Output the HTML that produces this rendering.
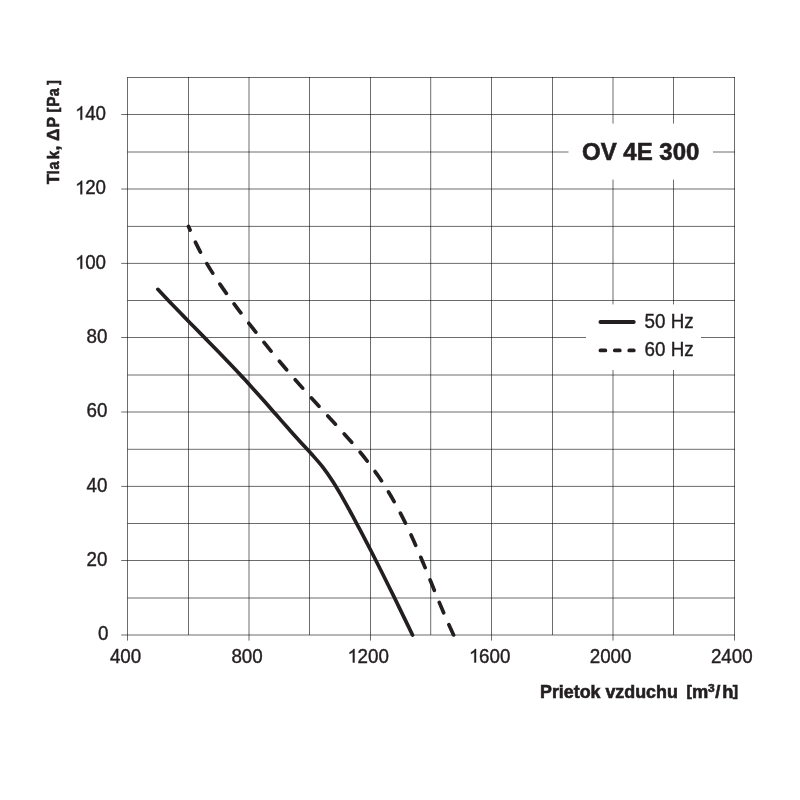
<!DOCTYPE html>
<html><head><meta charset="utf-8"><title>OV 4E 300</title>
<style>
html,body{margin:0;padding:0;background:#fff;}
body{width:800px;height:800px;overflow:hidden;}
svg{display:block;will-change:transform;}
text{font-family:"Liberation Sans",sans-serif;fill:#231f20;stroke:#231f20;stroke-width:0.38px;}
.b{font-weight:bold;stroke-width:0.6px;}
</style></head><body>
<svg width="800" height="800" viewBox="0 0 800 800">
<rect width="800" height="800" fill="#fff"/>
<g stroke="#000" stroke-opacity="0.576" stroke-width="1" fill="none">
<line x1="127.50" y1="77.00" x2="127.50" y2="640.60"/>
<line x1="188.50" y1="77.00" x2="188.50" y2="635.00"/>
<line x1="249.00" y1="77.00" x2="249.00" y2="640.60"/>
<line x1="309.50" y1="77.00" x2="309.50" y2="635.00"/>
<line x1="370.50" y1="77.00" x2="370.50" y2="640.60"/>
<line x1="430.70" y1="77.00" x2="430.70" y2="635.00"/>
<line x1="491.50" y1="77.00" x2="491.50" y2="640.60"/>
<line x1="552.50" y1="77.00" x2="552.50" y2="635.00"/>
<line x1="613.00" y1="77.00" x2="613.00" y2="640.60"/>
<line x1="673.50" y1="77.00" x2="673.50" y2="635.00"/>
<line x1="734.50" y1="77.00" x2="734.50" y2="640.60"/>
<line x1="127.50" y1="77.50" x2="735.00" y2="77.50"/>
<line x1="121.20" y1="114.50" x2="735.00" y2="114.50"/>
<line x1="127.50" y1="152.00" x2="735.00" y2="152.00"/>
<line x1="121.20" y1="189.00" x2="735.00" y2="189.00"/>
<line x1="127.50" y1="226.40" x2="735.00" y2="226.40"/>
<line x1="121.20" y1="263.40" x2="735.00" y2="263.40"/>
<line x1="127.50" y1="300.50" x2="735.00" y2="300.50"/>
<line x1="121.20" y1="337.50" x2="735.00" y2="337.50"/>
<line x1="127.50" y1="375.00" x2="735.00" y2="375.00"/>
<line x1="121.20" y1="412.00" x2="735.00" y2="412.00"/>
<line x1="127.50" y1="449.30" x2="735.00" y2="449.30"/>
<line x1="121.20" y1="486.40" x2="735.00" y2="486.40"/>
<line x1="127.50" y1="523.50" x2="735.00" y2="523.50"/>
<line x1="121.20" y1="560.50" x2="735.00" y2="560.50"/>
<line x1="127.50" y1="598.00" x2="735.00" y2="598.00"/>
<line x1="121.20" y1="635.00" x2="735.00" y2="635.00"/>
</g>
<rect x="568.5" y="123.6" width="144.5" height="56" fill="#fff"/>
<rect x="586" y="304.4" width="115" height="65.6" fill="#fff"/>
<path d="M157.85 289.35C159.83 291.45 165.77 297.76 169.76 301.93C173.75 306.10 177.77 310.25 181.80 314.39C185.82 318.54 189.87 322.66 193.91 326.79C197.95 330.91 202.00 335.03 206.04 339.16C210.08 343.29 214.13 347.41 218.15 351.56C222.17 355.70 226.18 359.85 230.17 364.03C234.15 368.21 238.12 372.40 242.05 376.63C245.98 380.86 249.88 385.12 253.75 389.40C257.61 393.68 261.44 398.00 265.27 402.33C269.09 406.65 272.89 411.00 276.71 415.33C280.52 419.67 284.33 424.02 288.16 428.34C292.00 432.66 295.85 436.97 299.74 441.25C303.63 445.53 307.67 449.69 311.51 454.00C315.35 458.32 319.24 462.58 322.77 467.12C326.30 471.66 329.54 476.42 332.68 481.25C335.82 486.08 338.71 491.08 341.61 496.08C344.51 501.08 347.27 506.17 350.05 511.25C352.83 516.32 355.57 521.42 358.28 526.52C361.00 531.62 363.69 536.74 366.35 541.86C369.01 546.99 371.65 552.12 374.27 557.27C376.89 562.41 379.49 567.56 382.07 572.72C384.66 577.89 387.22 583.06 389.78 588.23C392.33 593.41 394.87 598.60 397.40 603.79C399.93 608.98 402.45 614.17 404.97 619.38C407.48 624.58 411.24 632.40 412.50 635.00" fill="none" stroke="#231f20" stroke-width="3.7" stroke-linecap="round" stroke-linejoin="round"/>
<path d="M188.50 226.40C189.83 229.40 193.61 238.54 196.49 244.42C199.37 250.30 202.49 256.03 205.76 261.69C209.02 267.34 212.50 272.87 216.07 278.33C219.64 283.80 223.39 289.17 227.19 294.49C230.99 299.82 234.93 305.07 238.88 310.29C242.83 315.52 246.87 320.70 250.91 325.87C254.94 331.03 259.01 336.18 263.11 341.29C267.21 346.40 271.34 351.49 275.52 356.53C279.69 361.58 283.91 366.59 288.17 371.56C292.43 376.53 296.74 381.45 301.08 386.36C305.42 391.26 309.81 396.12 314.20 400.97C318.60 405.83 323.04 410.65 327.46 415.49C331.89 420.32 336.36 425.13 340.75 430.00C345.14 434.87 349.54 439.74 353.79 444.71C358.05 449.68 362.26 454.68 366.28 459.82C370.31 464.97 374.21 470.19 377.92 475.56C381.63 480.92 385.16 486.41 388.55 492.00C391.93 497.58 395.15 503.28 398.24 509.04C401.34 514.81 404.27 520.67 407.11 526.57C409.95 532.48 412.65 538.46 415.30 544.46C417.95 550.46 420.48 556.52 423.01 562.58C425.54 568.65 427.99 574.75 430.48 580.82C432.96 586.90 435.41 593.00 437.92 599.05C440.43 605.11 442.94 611.16 445.55 617.15C448.17 623.14 452.26 632.02 453.60 635.00" fill="none" stroke="#231f20" stroke-width="3.7" stroke-linecap="round" stroke-linejoin="round" stroke-dasharray="11.2 13.15" stroke-dashoffset="7.2"/>
<line x1="600.4" y1="322" x2="633.8" y2="322" stroke="#231f20" stroke-width="3.8" stroke-linecap="round"/>
<line x1="600.4" y1="350.4" x2="633.8" y2="350.4" stroke="#231f20" stroke-width="3.7" stroke-linecap="round" stroke-dasharray="5 9.4"/>
<path d="M763 0H583V1147Q518 1085 412.5 1023T223 930V1104Q374 1175 487 1276T647 1472H763Z" transform="translate(75.14 119.75) scale(0.00918 -0.00918)" fill="#231f20" stroke="#231f20" stroke-width="41.4"/>
<text transform="translate(85.14 119.75) scale(1 1.040)" font-size="18.80">40</text>
<path d="M763 0H583V1147Q518 1085 412.5 1023T223 930V1104Q374 1175 487 1276T647 1472H763Z" transform="translate(75.14 194.25) scale(0.00918 -0.00918)" fill="#231f20" stroke="#231f20" stroke-width="41.4"/>
<text transform="translate(85.14 194.25) scale(1 1.040)" font-size="18.80">20</text>
<path d="M763 0H583V1147Q518 1085 412.5 1023T223 930V1104Q374 1175 487 1276T647 1472H763Z" transform="translate(75.14 268.65) scale(0.00918 -0.00918)" fill="#231f20" stroke="#231f20" stroke-width="41.4"/>
<text transform="translate(85.14 268.65) scale(1 1.040)" font-size="18.80">00</text>
<text transform="translate(86.49 342.75) scale(1 1.040)" font-size="18.80">80</text>
<text transform="translate(86.49 417.25) scale(1 1.040)" font-size="18.80">60</text>
<text transform="translate(86.49 491.65) scale(1 1.040)" font-size="18.80">40</text>
<text transform="translate(86.49 565.75) scale(1 1.040)" font-size="18.80">20</text>
<text transform="translate(97.94 640.25) scale(1 1.040)" font-size="18.80">0</text>
<text transform="translate(109.92 662.50) scale(1 1.040)" font-size="18.80">400</text>
<text transform="translate(231.42 662.50) scale(1 1.040)" font-size="18.80">800</text>
<path d="M763 0H583V1147Q518 1085 412.5 1023T223 930V1104Q374 1175 487 1276T647 1472H763Z" transform="translate(347.52 662.50) scale(0.00918 -0.00918)" fill="#231f20" stroke="#231f20" stroke-width="41.4"/>
<text transform="translate(357.52 662.50) scale(1 1.040)" font-size="18.80">200</text>
<path d="M763 0H583V1147Q518 1085 412.5 1023T223 930V1104Q374 1175 487 1276T647 1472H763Z" transform="translate(469.02 662.50) scale(0.00918 -0.00918)" fill="#231f20" stroke="#231f20" stroke-width="41.4"/>
<text transform="translate(479.02 662.50) scale(1 1.040)" font-size="18.80">600</text>
<text transform="translate(589.69 662.50) scale(1 1.040)" font-size="18.80">2000</text>
<text transform="translate(710.89 662.50) scale(1 1.040)" font-size="18.80">2400</text>
<text transform="translate(644.6 327.7) scale(1 1.040)" font-size="18.8">50 Hz</text>
<text transform="translate(644.6 356.1) scale(1 1.040)" font-size="18.8">60 Hz</text>
<text class="b" x="582" y="160.2" font-size="24">OV 4E 300</text>
<g>
<text class="b" style="stroke-width:0.6px" transform="translate(58.65 184.28) rotate(-90) scale(0.960 1)" font-size="17.3">T</text>
<text class="b" style="stroke-width:0.6px" transform="translate(58.65 174.32) rotate(-90) scale(0.780 1)" font-size="17.3">l</text>
<text class="b" style="stroke-width:0.6px" transform="translate(58.65 169.60) rotate(-90) scale(0.840 1)" font-size="17.3">a</text>
<text class="b" style="stroke-width:0.6px" transform="translate(58.65 159.37) rotate(-90) scale(0.880 1)" font-size="17.3">k</text>
<text class="b" style="stroke-width:0.6px" transform="translate(58.65 150.51) rotate(-90) scale(1.000 1)" font-size="17.3">,</text>
<text class="b" style="stroke-width:0.6px" transform="translate(58.65 140.96) rotate(-90) scale(1.000 1)" font-size="17.3">Δ</text>
<text class="b" style="stroke-width:0.6px" transform="translate(58.65 127.57) rotate(-90) scale(0.920 1)" font-size="17.3">P</text>
<text class="b" style="stroke-width:0.6px" transform="translate(57.65 112.62) rotate(-90) scale(0.930 1)" font-size="15.5">[</text>
<text class="b" style="stroke-width:0.6px" transform="translate(58.65 106.85) rotate(-90) scale(0.900 1)" font-size="17.3">P</text>
<text class="b" style="stroke-width:0.6px" transform="translate(58.65 96.15) rotate(-90) scale(0.830 1)" font-size="17.3">a</text>
<text class="b" style="stroke-width:0.6px" transform="translate(57.65 84.98) rotate(-90) scale(0.930 1)" font-size="15.5">]</text>
</g>
<text class="b" x="540" y="697.7" font-size="17.85">Prietok vzduchu</text>
<text class="b" transform="translate(686.6 697.7) scale(1.04 1)" font-size="17.6"><tspan font-size="15.4" dy="-1.4" dx="-0.2">[</tspan><tspan dy="1.4" dx="0.2">m</tspan><tspan font-size="11.5" dy="-5.6" dx="-0.3">3</tspan><tspan dy="5.6" dx="0.7">/</tspan><tspan dx="1.9">h</tspan><tspan font-size="15.4" dy="-1.4" dx="-0.6">]</tspan></text>
</svg>
</body></html>
